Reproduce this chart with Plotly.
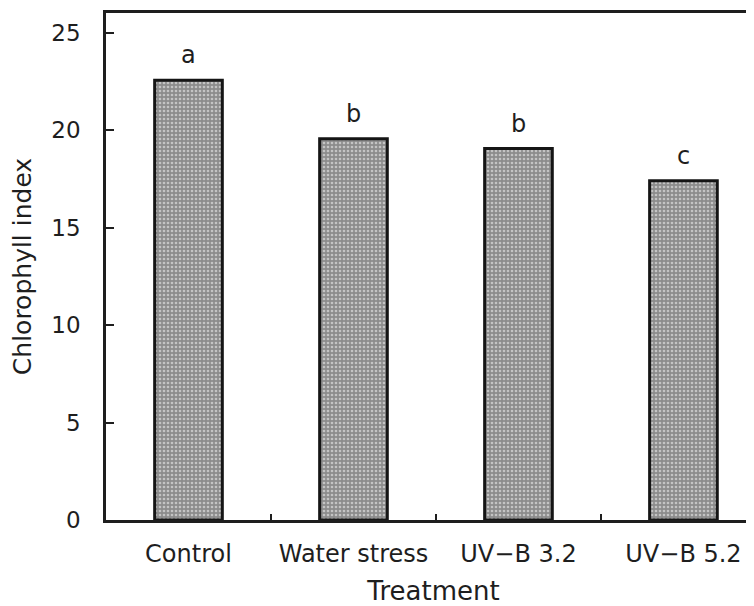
import plotly.graph_objects as go

categories = ["Control", "Water stress", "UV\u2212B 3.2", "UV\u2212B 5.2"]
chlorophyll = [22.55, 19.55, 19.05, 17.4]
letters = ["a", "b", "b", "c"]
y_ticks = [0, 5, 10, 15, 20, 25]

font_family = "DejaVu Sans, Liberation Sans, Arial, sans-serif"
ink = "#1e1e1e"

fig = go.Figure()
fig.add_trace(go.Bar(
    x=categories,
    y=chlorophyll,
    width=0.41,
    marker=dict(
        color="#8f8f8f",
        line=dict(color="#151515", width=3),
        pattern=dict(shape=".", fgcolor="#c4c4c4", bgcolor="#8c8c8c",
                     size=4, solidity=0.35, fillmode="replace"),
    ),
    showlegend=False,
))

for c, v, t in zip(categories, chlorophyll, letters):
    fig.add_annotation(x=c, y=v, text=t, showarrow=False, yanchor="bottom",
                       yshift=9, font=dict(size=24, color=ink, family=font_family))

# partial right border as in the scan
fig.add_shape(type="line", xref="paper", x0=1, x1=1, yref="y", y0=0, y1=4.8,
              line=dict(color=ink, width=2.5))

fig.update_layout(
    width=754, height=606,
    margin=dict(l=98, r=1, t=5, b=94),
    paper_bgcolor="white", plot_bgcolor="white",
    font=dict(family=font_family, color=ink),
    bargap=0.59,
)
fig.update_xaxes(
    range=[-0.5, 3.47],
    showline=True, linecolor=ink, linewidth=2.5, mirror=True,
    ticks="inside", tickson="boundaries", ticklen=6, tickcolor=ink, tickwidth=1.5,
    tickfont=dict(size=24, color=ink), ticklabelstandoff=10,
    title=dict(text="Treatment", font=dict(size=26, color=ink), standoff=16),
    showgrid=False, zeroline=False,
)
fig.update_yaxes(
    range=[0, 26], tickvals=y_ticks,
    showline=True, linecolor=ink, linewidth=2.5,
    ticks="inside", ticklen=8, tickcolor=ink, tickwidth=1.5,
    tickfont=dict(size=23, color=ink), ticklabelstandoff=18,
    title=dict(text="Chlorophyll index", font=dict(size=25, color=ink), standoff=20),
    showgrid=False, zeroline=False,
)

fig.write_html("out.html")
